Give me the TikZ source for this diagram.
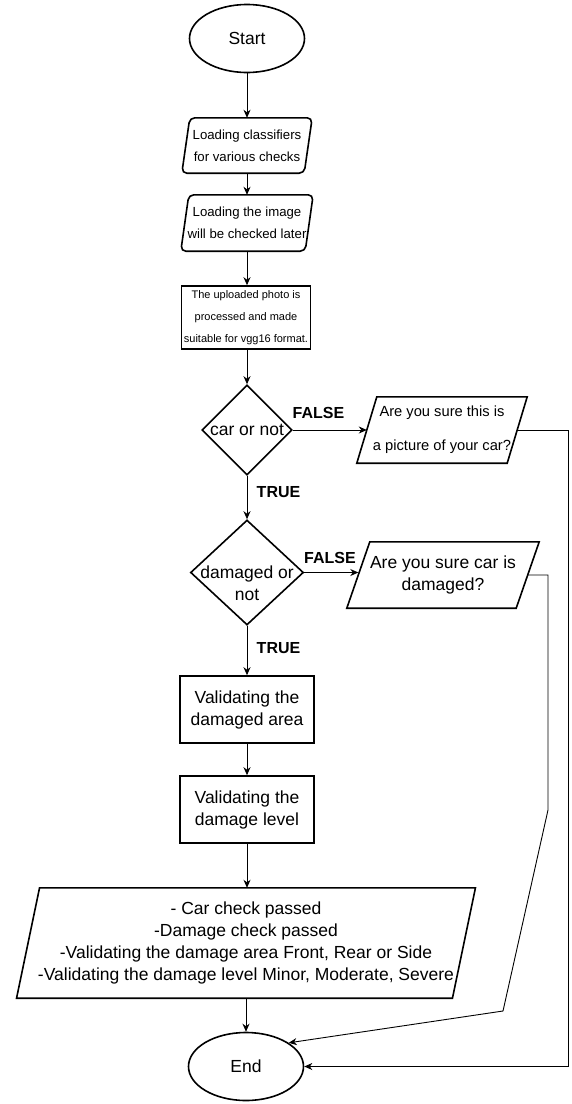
\documentclass[tikz,border=0pt]{standalone}
\usepackage{fontspec}
\setmainfont{Liberation Sans}
\usetikzlibrary{shapes.geometric,arrows.meta}
\newcommand\fbig{\fontsize{17.5}{22}\selectfont}
\newcommand\fmid{\fontsize{14.7}{34}\selectfont}
\newcommand\fsmall{\fontsize{13.2}{22}\selectfont}
\newcommand\ftiny{\fontsize{11}{22}\selectfont}
\newcommand\flab{\fontsize{16}{18}\selectfont\bfseries}
\newcommand\pgramoutline[3][]{\draw[shapeline,#1] ([xshift=#3]#2.north west) -- ([xshift=#3]#2.north east) -- ([xshift=-#3]#2.south east) -- ([xshift=-#3]#2.south west) -- cycle;}
\tikzset{
  shapeline/.style={line width=1.6pt, draw=black, line join=miter},
  term/.style={ellipse, shapeline, minimum width=115pt, minimum height=68pt, inner sep=0pt, font=\fbig},
  procbox/.style={rectangle, shapeline, minimum width=134pt, minimum height=67pt, inner sep=0pt, align=center, font=\fbig},
  pgram/.style={rectangle, inner sep=0pt, align=center},
  decision/.style={diamond, shapeline, inner sep=0pt, minimum width=#1},
  arr/.style={line width=0.9pt, -{Stealth[length=8pt,width=7pt,inset=2.5pt]}},
  lab/.style={inner sep=0pt, font=\flab},
  dtext/.style={inner sep=0pt, align=center, font=\fbig}
}
\begin{document}
\begin{tikzpicture}[x=1pt,y=-1pt]
\useasboundingbox (0,0) rectangle (571,1104);
% nodes
\node[term] (start) at (247,38.5) {Start};
\node[pgram, minimum width=122pt, minimum height=55pt, font=\fsmall] (p1) at (247,145.5) {Loading classifiers\\for various checks};
\pgramoutline[rounded corners=5pt]{p1}{4}
\node[pgram, minimum width=124pt, minimum height=56pt, font=\fsmall] (p2) at (247,223) {Loading the image\\will be checked later};
\pgramoutline[rounded corners=5pt]{p2}{4}
\node[procbox, minimum width=129pt, minimum height=63pt, font=\ftiny] (b3) at (246,317.5) {The uploaded photo is\\processed and made\\suitable for vgg16 format.};
\node[decision, minimum height=90pt, minimum width=90pt] (d1) at (247,430) {};
\node[dtext] (d1t) at (247,430) {car or not};
\node[pgram, minimum width=150pt, minimum height=66pt, font=\fmid] (pcar) at (442,430) {Are you sure this is\\a picture of your car?};
\pgramoutline{pcar}{10}
\node[decision, minimum height=105pt, minimum width=113pt] (d2) at (247,572.5) {};
\node[dtext] (d2t) at (247,583) {damaged or\\not};
\node[pgram, minimum width=169pt, minimum height=66pt, font=\fbig] (pdmg) at (443,575) {Are you sure car is\\damaged?};
\pgramoutline{pdmg}{11.5}
\node[procbox] (b4) at (247,709.5) {Validating the\\damaged area};
\node[procbox] (b5) at (247,809.5) {Validating the\\damage level};
\node[pgram, minimum width=435.5pt, minimum height=110pt, font=\fbig] (pf) at (246,943) {- Car check passed\\-Damage check passed\\-Validating the damage area Front, Rear or Side\\-Validating the damage level Minor, Moderate, Severe};
\pgramoutline{pf}{11.5}
\node[term] (end) at (246,1066.5) {End};
% labels
\node[lab] (lf1) at (318.5,413) {FALSE};
\node[lab] (lt1) at (278.5,492) {TRUE};
\node[lab] (lf2) at (330,558) {FALSE};
\node[lab] (lt2) at (278.5,648) {TRUE};
% waypoints
\coordinate (r1) at (568,430);
\coordinate (r2) at (568,1066.5);
\coordinate (q1) at (548,575);
\coordinate (q2) at (548,810);
\coordinate (q3) at (503,1011);
% connectors
\draw[arr] (start.south) -- (start.south |- p1.north);
\draw[arr] (p1.south) -- (p1.south |- p2.north);
\draw[arr] (p2.south) -- (p2.south |- b3.north);
\draw[arr] (b3.south -| d1.north) -- (d1.north);
\draw[arr] (d1.south) -- (d2.north);
\draw[arr] (d1.east) -- (pcar.west);
\draw[arr] (pcar.east) -- (r1) -- (r2) -- (end.east);
\draw[arr] (d2.east) -- (d2.east -| pdmg.west);
\draw[arr] (pdmg.east) -- (q1) -- (q2) -- (q3) -- (end.29);
\draw[arr] (d2.south) -- (b4.north);
\draw[arr] (b4.south) -- (b5.north);
\draw[arr] (b5.south) -- (b5.south |- pf.north);
\draw[arr] (pf.south -| end.north) -- (end.north);
\end{tikzpicture}
\end{document}
